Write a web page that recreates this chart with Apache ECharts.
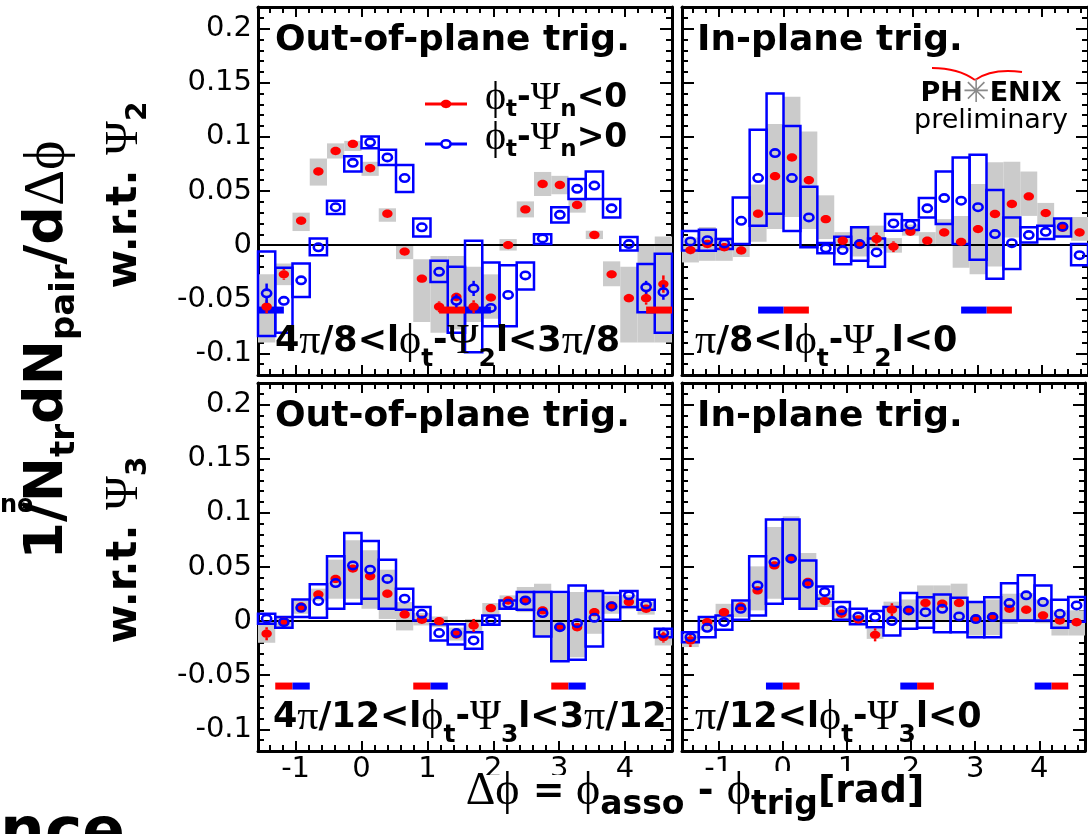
<!DOCTYPE html>
<html><head><meta charset="utf-8">
<script src="https://cdn.jsdelivr.net/npm/echarts@6/dist/echarts.min.js"></script>
<style>html,body{margin:0;padding:0;background:#fff}#c{width:1088px;height:834px}</style>
</head><body><div id="c"></div>
<script>
const PI = Math.PI;
// bin centres of delta-phi (rad), 24 bins of pi/12 from -pi/2 to 3pi/2
const dphi = [-1.4399,-1.1781,-0.9163,-0.6545,-0.3927,-0.1309,0.1309,0.3927,0.6545,0.9163,1.1781,1.4399,1.7017,1.9635,2.2253,2.4871,2.7489,3.0107,3.2725,3.5343,3.7961,4.0579,4.3197,4.5815];
const binWidth = PI/12;
const xTickLabels = ['-1','0','1','2','3','4'];
const yTickLabels = ['-0.1','-0.05','0','0.05','0.1','0.15','0.2'];
const trigLevel = -0.06;

// ---- Psi2, out-of-plane trigger (top-left)
const psi2OutRed    = [-0.057,-0.027,0.0225,0.068,0.087,0.0935,0.071,0.029,-0.006,-0.031,-0.057,-0.048,-0.057,-0.0485,0.000,0.033,0.0565,0.0556,0.037,0.0093,-0.027,-0.049,-0.049,-0.036];
const psi2OutRedLo  = [-0.090,-0.037,0.013,0.055,0.080,0.087,0.064,0.0216,-0.013,-0.071,-0.081,-0.078,-0.071,-0.068,-0.005,0.0256,0.0454,0.047,0.030,0.0056,-0.038,-0.090,-0.090,-0.090];
const psi2OutRedHi  = [-0.027,-0.017,0.030,0.080,0.094,0.0963,0.077,0.034,0.001,-0.013,-0.010,-0.010,-0.020,-0.027,0.0056,0.0404,0.0676,0.064,0.0426,0.0133,-0.015,-0.020,0.000,0.008];
const psi2OutRedErr = [0.006,0.005,0.002,0.002,0.002,0.002,0.002,0.002,0.002,0.003,0.005,0.004,0.006,0.003,0.002,0.002,0.002,0.002,0.002,0.002,0.003,0.004,0.006,0.008];
const psi2OutBlue    = [-0.0445,-0.0515,-0.0325,-0.002,0.035,0.076,0.095,0.081,0.062,0.0165,-0.0247,-0.0515,-0.040,-0.058,-0.046,-0.028,0.0062,0.028,0.052,0.055,0.034,0.001,-0.039,-0.0435];
const psi2OutBlueLo  = [-0.084,-0.081,-0.048,-0.0093,0.0287,0.068,0.0895,0.074,0.049,0.008,-0.034,-0.081,-0.099,-0.075,-0.075,-0.041,0.001,0.021,0.0426,0.0426,0.0256,-0.005,-0.062,-0.081];
const psi2OutBlueHi  = [-0.006,-0.021,-0.017,0.006,0.041,0.082,0.1003,0.088,0.074,0.0247,-0.0145,-0.020,0.004,-0.016,-0.0185,-0.016,0.010,0.035,0.061,0.068,0.0426,0.0074,-0.0175,-0.008];
const psi2OutBlueErr = [0.009,0.004,0.003,0.002,0.002,0.002,0.002,0.002,0.002,0.002,0.003,0.006,0.007,0.004,0.003,0.003,0.002,0.002,0.002,0.002,0.002,0.002,0.006,0.007];
const psi2OutTrigRed  = [[3*PI/8, PI/2],[11*PI/8, 3*PI/2]];
const psi2OutTrigBlue = [[-PI/2, -3*PI/8],[PI/2, 5*PI/8]];

// ---- Psi2, in-plane trigger (top-right)
const psi2InRed    = [-0.0046,0.001,-0.002,-0.005,0.029,0.0636,0.081,0.060,0.024,0.004,0.0005,0.0056,-0.0015,0.0123,0.004,0.0117,0.003,0.0148,0.0287,0.038,0.045,0.0296,0.016,0.0117];
const psi2InRedLo  = [-0.016,-0.0145,-0.0145,-0.011,0.003,0.015,0.026,0.015,0.0056,-0.004,-0.0105,-0.003,-0.007,0.0087,-0.001,0.000,-0.021,-0.027,-0.0197,0.007,0.027,0.0164,0.008,0.004];
const psi2InRedHi  = [0.007,0.0167,0.007,0.001,0.056,0.112,0.137,0.105,0.046,0.012,0.0175,0.018,0.0065,0.019,0.012,0.024,0.027,0.0565,0.0765,0.077,0.068,0.039,0.024,0.026];
const psi2InRedErr = [0.004,0.002,0.002,0.002,0.002,0.002,0.002,0.002,0.002,0.002,0.002,0.006,0.005,0.002,0.002,0.002,0.002,0.002,0.002,0.002,0.002,0.002,0.002,0.002];
const psi2InBlue    = [0.0034,0.0046,0.0016,0.0225,0.062,0.085,0.062,0.0256,-0.003,-0.0046,0.001,-0.0068,0.020,0.0188,0.034,0.0435,0.041,0.035,0.0102,0.0018,0.0093,0.0123,0.017,-0.0093];
const psi2InBlueLo  = [-0.005,-0.0053,-0.0037,0.001,0.018,0.029,0.013,-0.002,-0.0074,-0.0176,-0.0145,-0.020,0.0133,0.014,0.0256,0.0194,0.001,-0.0136,-0.031,-0.022,0.0025,0.0056,0.008,-0.0185];
const psi2InBlueHi  = [0.013,0.0142,0.0056,0.044,0.1065,0.140,0.110,0.054,0.002,0.0077,0.0164,0.006,0.0287,0.023,0.0435,0.068,0.081,0.0836,0.051,0.0256,0.0164,0.0179,0.0247,0.001];
const psi2InBlueErr = [0.002,0.002,0.002,0.002,0.002,0.002,0.002,0.002,0.002,0.002,0.002,0.002,0.002,0.002,0.002,0.002,0.002,0.002,0.002,0.002,0.002,0.002,0.002,0.002];
const psi2InTrigRed  = [[0, PI/8],[PI, 9*PI/8]];
const psi2InTrigBlue = [[-PI/8, 0],[7*PI/8, PI]];

// ---- Psi3, out-of-plane trigger (bottom-left)
const psi3OutRed    = [-0.0117,-0.0003,0.0136,0.0247,0.039,0.0485,0.0414,0.0253,0.0062,0.0012,0.000,-0.0123,-0.004,0.012,0.019,0.019,0.0099,-0.0056,-0.0056,0.0083,0.0145,0.0176,0.0114,-0.0148];
const psi3OutRedLo  = [-0.020,-0.006,0.0068,0.019,0.0207,0.0207,0.0114,0.002,-0.0086,-0.004,-0.0056,-0.018,-0.010,0.0052,0.0114,0.0083,-0.0148,-0.0364,-0.0333,-0.0117,0.0068,0.011,0.006,-0.0225];
const psi3OutRedHi  = [-0.001,0.004,0.019,0.030,0.0568,0.0747,0.0654,0.0475,0.0176,0.0074,0.0043,-0.006,0.002,0.0167,0.0238,0.0315,0.0346,0.0253,0.0269,0.0269,0.0238,0.024,0.018,-0.0086];
const psi3OutRedErr = [0.006,0.002,0.002,0.002,0.002,0.002,0.002,0.002,0.002,0.002,0.003,0.003,0.006,0.002,0.002,0.002,0.002,0.002,0.002,0.002,0.002,0.002,0.002,0.005];
const psi3OutBlue    = [0.0022,-0.001,0.0123,0.0185,0.0352,0.0515,0.0475,0.039,0.0207,0.0068,-0.011,-0.011,-0.0179,0.0006,0.016,0.0191,0.0074,-0.0056,-0.0019,0.0031,0.0136,0.0238,0.0154,-0.011];
const psi3OutBlueLo  = [-0.0025,-0.0062,0.0037,0.003,0.0114,0.016,0.0207,0.0114,0.0105,0.0006,-0.0179,-0.0216,-0.0256,-0.0034,0.0114,0.0105,-0.0142,-0.037,-0.0358,-0.0235,0.0012,0.013,0.0105,-0.0148];
const psi3OutBlueHi  = [0.0068,0.0037,0.020,0.034,0.060,0.0815,0.074,0.0568,0.030,0.013,-0.003,-0.003,-0.0102,0.0052,0.0191,0.0269,0.0269,0.0269,0.033,0.0278,0.026,0.0278,0.0198,-0.007];
const psi3OutBlueErr = [0.005,0.002,0.002,0.002,0.002,0.002,0.002,0.002,0.002,0.002,0.002,0.002,0.002,0.002,0.002,0.002,0.002,0.002,0.002,0.002,0.002,0.002,0.002,0.005];
const psi3OutTrigRed  = [[-5*PI/12, -4*PI/12],[3*PI/12, 4*PI/12],[11*PI/12, PI]];
const psi3OutTrigBlue = [[-4*PI/12, -3*PI/12],[4*PI/12, 5*PI/12],[PI, 13*PI/12]];

// ---- Psi3, in-plane trigger (bottom-right)
const psi3InRed    = [-0.0179,-0.0009,0.0083,0.0136,0.0284,0.0515,0.0577,0.0361,0.0185,0.0068,0.0015,-0.0127,0.0105,0.0099,0.0167,0.016,0.0167,0.0022,0.0043,0.0114,0.0105,0.0052,0.0006,-0.001];
const psi3InRedLo  = [-0.024,-0.0086,0.0006,0.0037,0.0099,0.0207,0.0207,0.0114,0.013,0.0006,-0.003,-0.0164,0.000,0.000,0.0006,0.0006,0.0006,-0.0133,-0.013,-0.0025,-0.001,-0.002,-0.0133,-0.0133];
const psi3InRedHi  = [-0.012,0.0037,0.016,0.0176,0.0506,0.087,0.097,0.063,0.025,0.012,0.006,-0.007,0.018,0.020,0.033,0.033,0.0346,0.0176,0.020,0.0253,0.026,0.020,0.010,0.010];
const psi3InRedErr = [0.006,0.002,0.002,0.002,0.002,0.002,0.002,0.002,0.002,0.002,0.002,0.006,0.006,0.002,0.002,0.002,0.002,0.002,0.002,0.002,0.002,0.002,0.002,0.002];
const psi3InBlue    = [-0.0148,-0.0062,-0.0009,0.0114,0.033,0.0546,0.0577,0.0346,0.0269,0.0099,0.0043,0.0037,0.000,0.0099,0.0083,0.0114,0.0043,0.0019,0.0037,0.0167,0.0238,0.0176,0.0068,0.0145];
const psi3InBlueLo  = [-0.0195,-0.0148,-0.008,0.0012,0.0052,0.016,0.0207,0.0114,0.0207,0.0012,-0.003,-0.0056,-0.0133,-0.007,-0.0062,-0.0102,-0.0102,-0.0148,-0.0148,0.0006,0.0006,0.0006,-0.0062,-0.0006];
const psi3InBlueHi  = [-0.0102,0.0037,0.0052,0.0191,0.060,0.094,0.094,0.056,0.032,0.0176,0.0114,0.0093,0.013,0.026,0.022,0.0247,0.0216,0.0176,0.022,0.035,0.0423,0.033,0.0198,0.0222];
const psi3InBlueErr = [0.002,0.002,0.002,0.002,0.002,0.002,0.002,0.002,0.002,0.002,0.002,0.002,0.002,0.002,0.002,0.002,0.002,0.002,0.002,0.002,0.002,0.002,0.002,0.002];
const psi3InTrigRed  = [[0, PI/12],[8*PI/12, 9*PI/12],[16*PI/12, 17*PI/12]];
const psi3InTrigBlue = [[-PI/12, 0],[7*PI/12, 8*PI/12],[15*PI/12, 16*PI/12]];

const panels = [
  {red:psi2OutRed, redLo:psi2OutRedLo, redHi:psi2OutRedHi, redErr:psi2OutRedErr, blue:psi2OutBlue, blueLo:psi2OutBlueLo, blueHi:psi2OutBlueHi, blueErr:psi2OutBlueErr, trigRed:psi2OutTrigRed, trigBlue:psi2OutTrigBlue},
  {red:psi2InRed, redLo:psi2InRedLo, redHi:psi2InRedHi, redErr:psi2InRedErr, blue:psi2InBlue, blueLo:psi2InBlueLo, blueHi:psi2InBlueHi, blueErr:psi2InBlueErr, trigRed:psi2InTrigRed, trigBlue:psi2InTrigBlue},
  {red:psi3OutRed, redLo:psi3OutRedLo, redHi:psi3OutRedHi, redErr:psi3OutRedErr, blue:psi3OutBlue, blueLo:psi3OutBlueLo, blueHi:psi3OutBlueHi, blueErr:psi3OutBlueErr, trigRed:psi3OutTrigRed, trigBlue:psi3OutTrigBlue},
  {red:psi3InRed, redLo:psi3InRedLo, redHi:psi3InRedHi, redErr:psi3InRedErr, blue:psi3InBlue, blueLo:psi3InBlueLo, blueHi:psi3InBlueHi, blueErr:psi3InBlueErr, trigRed:psi3InTrigRed, trigBlue:psi3InTrigBlue}
];

const RED = '#ff0000', BLUE = '#0000ff', GRAY = '#cbcbcb';
const grids = [
  {left:258, top:7, width:414, height:368},
  {left:682, top:7, width:414, height:368},
  {left:258, top:383, width:414, height:368},
  {left:682, top:383, width:414, height:368}
];

function fmtNum(v){ return String(+(+v).toFixed(4)); }
function baseAxis(extra){
  return Object.assign({
    type:'value',
    axisLine:{show:true, onZero:false, lineStyle:{color:'#000', width:3}},
    axisTick:{show:true, inside:true, length:12, lineStyle:{color:'#000', width:2}},
    minorTick:{show:true, splitNumber:5, length:6, lineStyle:{color:'#000', width:2}},
    splitLine:{show:false}, minorSplitLine:{show:false},
    axisLabel:{show:false}
  }, extra);
}
const xAxes = [], yAxes = [];
grids.forEach((g, i) => {
  const xlab = {show: i >= 2, color:'#000', fontFamily:'DejaVu Sans', fontSize:29, margin:4,
    formatter: v => { const s = fmtNum(v); return xTickLabels.includes(s) ? s : ''; }};
  const ylab = {show: i % 2 === 0, color:'#000', fontFamily:'DejaVu Sans', fontSize:29, margin:6,
    formatter: v => { const s = fmtNum(v); return yTickLabels.includes(s) ? s : ''; }};
  xAxes.push(baseAxis({gridIndex:i, position:'bottom', min:-PI/2, max:3*PI/2, splitNumber:6, axisTick:{show:true, inside:true, length:10, lineStyle:{color:'#000', width:2}}, axisLabel:xlab}));
  xAxes.push(baseAxis({gridIndex:i, position:'top', min:-PI/2, max:3*PI/2, splitNumber:6, axisTick:{show:true, inside:true, length:10, lineStyle:{color:'#000', width:2}}}));
  yAxes.push(baseAxis({gridIndex:i, position:'left', min:-0.12, max:0.22, splitNumber:7, axisLabel:ylab}));
  yAxes.push(baseAxis({gridIndex:i, position:'right', min:-0.12, max:0.22, splitNumber:7}));
});

function boxSeries(g, lo, hi, isBlue){
  return {
    type:'custom', xAxisIndex:2*g, yAxisIndex:2*g, z: isBlue ? 3 : 1, silent:true,
    data: dphi.map((x, i) => [x, lo[i], hi[i]]),
    encode:{x:0, y:[1,2]},
    renderItem(params, api){
      const x = api.value(0);
      const p1 = api.coord([x - binWidth/2, api.value(2)]);
      const p2 = api.coord([x + binWidth/2, api.value(1)]);
      const cs = params.coordSys;
      const x0 = Math.max(p1[0], cs.x), x1 = Math.min(p2[0], cs.x + cs.width);
      return {type:'rect', shape:{x:x0, y:p1[1], width:x1 - x0, height:p2[1] - p1[1]},
        style: isBlue ? {fill:'none', stroke:BLUE, lineWidth:2.5} : {fill:GRAY}};
    }
  };
}
function pointSeries(g, vals, errs, isBlue){
  const rx = isBlue ? 4.6 : 5.2, ry = isBlue ? 3.7 : 4.2;
  return {
    type:'custom', xAxisIndex:2*g, yAxisIndex:2*g, z: isBlue ? 8 : 6, silent:true,
    data: dphi.map((x, i) => [x, vals[i], errs[i]]),
    encode:{x:0, y:1},
    renderItem(params, api){
      const x = api.value(0), v = api.value(1), e = api.value(2);
      const c = api.coord([x, v]);
      const t = api.coord([x, v + e]), b = api.coord([x, v - e]);
      const col = isBlue ? BLUE : RED;
      const children = [];
      // error bar drawn outside the marker only
      if (c[1] - t[1] > ry) {
        children.push({type:'line', shape:{x1:c[0], y1:t[1], x2:c[0], y2:c[1] - ry}, style:{stroke:col, lineWidth:2.5}});
        children.push({type:'line', shape:{x1:c[0], y1:c[1] + ry, x2:c[0], y2:b[1]}, style:{stroke:col, lineWidth:2.5}});
      }
      children.push({type:'ellipse', shape:{cx:c[0], cy:c[1], rx, ry},
        style: isBlue ? {fill:'none', stroke:col, lineWidth:2.6} : {fill:col}});
      return {type:'group', children};
    }
  };
}
function trigSeries(g, ranges, col){
  return {
    type:'custom', xAxisIndex:2*g, yAxisIndex:2*g, z:4, silent:true,
    data: ranges.map(r => [r[0], r[1], trigLevel]),
    encode:{x:[0,1], y:2},
    renderItem(params, api){
      const a = api.coord([api.value(0), api.value(2)]);
      const b = api.coord([api.value(1), api.value(2)]);
      return {type:'rect', shape:{x:a[0], y:a[1] - 3.5, width:b[0] - a[0], height:7}, style:{fill:col}};
    }
  };
}
const series = [];
panels.forEach((p, g) => {
  series.push(boxSeries(g, p.redLo, p.redHi, false));
  series.push({type:'line', xAxisIndex:2*g, yAxisIndex:2*g, z:2, silent:true, symbol:'none',
    data:[[-PI/2, 0],[3*PI/2, 0]], lineStyle:{color:'#000', width:2}});
  series.push(boxSeries(g, p.blueLo, p.blueHi, true));
  series.push(trigSeries(g, p.trigRed, RED));
  series.push(trigSeries(g, p.trigBlue, BLUE));
  series.push(pointSeries(g, p.red, p.redErr, false));
  series.push(pointSeries(g, p.blue, p.blueErr, true));
});

const SANS = '"DejaVu Sans", sans-serif';
const SERIF = '"Liberation Serif", "DejaVu Serif", serif';
function rich(bSize, gSize, sSize, shift){
  return {
    b:{fontFamily:SANS, fontWeight:'bold', fontSize:bSize, fill:'#000', lineHeight:bSize + 6},
    g:{fontFamily:SERIF, fontSize:gSize, fill:'#000', lineHeight:bSize + 6},
    s:{fontFamily:SANS, fontWeight:'bold', fontSize:sSize, fill:'#000', lineHeight:bSize + 6, padding:[2*shift, 0, 0, 0]}
  };
}
function txt(x, y, text, richStyle, opts){
  opts = opts || {};
  return {type:'text', x, y, z: opts.z || 50, rotation: opts.rotation || 0,
    style:{text, rich:richStyle, font: opts.font, fill:'#000',
      align: opts.align || 'left', textAlign: opts.align || 'left',
      verticalAlign:'middle', textVerticalAlign:'middle'}};
}
const rangeRich = rich(35, 42, 25, 17);
const legRich = rich(33, 40, 23, 12);
const graphic = [
  txt(275, 41, 'Out-of-plane trig.', null, {font:'bold 36px ' + SANS}),
  txt(697, 41, 'In-plane trig.', null, {font:'bold 36px ' + SANS}),
  txt(275, 417, 'Out-of-plane trig.', null, {font:'bold 36px ' + SANS}),
  txt(697, 417, 'In-plane trig.', null, {font:'bold 36px ' + SANS}),
  txt(275, 342, '{b|4}{g|π}{b|/8<l}{g|ϕ}{s|t}{b|-}{g|Ψ}{s|2}{b|l<3}{g|π}{b|/8}', rangeRich),
  txt(695, 342, '{g|π}{b|/8<l}{g|ϕ}{s|t}{b|-}{g|Ψ}{s|2}{b|l<0}', rangeRich),
  txt(273, 718, '{b|4}{g|π}{b|/12<l}{g|ϕ}{s|t}{b|-}{g|Ψ}{s|3}{b|l<3}{g|π}{b|/12}', rangeRich),
  txt(695, 718, '{g|π}{b|/12<l}{g|ϕ}{s|t}{b|-}{g|Ψ}{s|3}{b|l<0}', rangeRich),
  // legend
  {type:'line', z:50, shape:{x1:425, y1:104, x2:467, y2:104}, style:{stroke:RED, lineWidth:3}},
  {type:'ellipse', z:51, shape:{cx:446, cy:104, rx:5.2, ry:4.2}, style:{fill:RED}},
  txt(485, 98, '{g|ϕ}{s|t}{b|-}{g|Ψ}{s|n}{b|<0}', legRich),
  {type:'line', z:50, shape:{x1:425, y1:144, x2:467, y2:144}, style:{stroke:BLUE, lineWidth:3}},
  {type:'ellipse', z:51, shape:{cx:446, cy:144, rx:4.6, ry:3.7}, style:{fill:'#fff', stroke:BLUE, lineWidth:2.6}},
  txt(485, 138, '{g|ϕ}{s|t}{b|-}{g|Ψ}{s|n}{b|>0}', legRich),
  // PHENIX logo
  {type:'bezierCurve', z:50, shape:{x1:932, y1:68, cpx1:958, cpy1:68, x2:975, y2:80}, style:{stroke:RED, lineWidth:2, fill:'none'}},
  {type:'bezierCurve', z:50, shape:{x1:975, y1:80, cpx1:992, cpy1:68, x2:1022, y2:72}, style:{stroke:RED, lineWidth:2, fill:'none'}},
  txt(991, 94, '{p|PH}{o|✳}{p|ENIX}', {p:{fontFamily:SANS, fontWeight:'bold', fontSize:27, fill:'#000'}, o:{fontFamily:SANS, fontSize:32, fill:'#8a8a8a'}}, {align:'center'}),
  txt(991, 121, 'preliminary', null, {font:'27px ' + SANS, align:'center'}),
  // axis titles
  txt(48, 350, '{b|1/N}{s|tr}{b|dN}{s|pair}{b|/d}{g|Δϕ}', rich(54, 56, 34, 17), {rotation:PI/2, align:'center'}),
  txt(125, 195, '{b|w.r.t. }{g|Ψ}{s|2}', rich(42, 46, 28, 14), {rotation:PI/2, align:'center'}),
  txt(125, 550, '{b|w.r.t. }{g|Ψ}{s|3}', rich(42, 46, 28, 14), {rotation:PI/2, align:'center'}),
  {type:'rect', z:90, shape:{x:478, y:775, width:120, height:59}, style:{fill:'#fff'}},
  {type:'rect', z:90, shape:{x:700, y:771, width:235, height:63}, style:{fill:'#fff'}},
  txt(695, 792, '{g|Δϕ}{b| =}{g| ϕ}{s|asso}{b| - }{g|ϕ}{s|trig}{b|[rad]}', rich(38, 46, 33, 13), {align:'center', z:95}),
  txt(0, 506, 'ne', null, {font:'bold 24px ' + SANS}),
  txt(125, 835, 'Dependence', null, {font:'bold 63px ' + SANS, align:'right'})
];

const chart = echarts.init(document.getElementById('c'), null, {renderer:'canvas'});
chart.setOption({
  animation:false,
  backgroundColor:'#fff',
  grid: grids,
  xAxis: xAxes,
  yAxis: yAxes,
  series,
  graphic
});
</script></body></html>
